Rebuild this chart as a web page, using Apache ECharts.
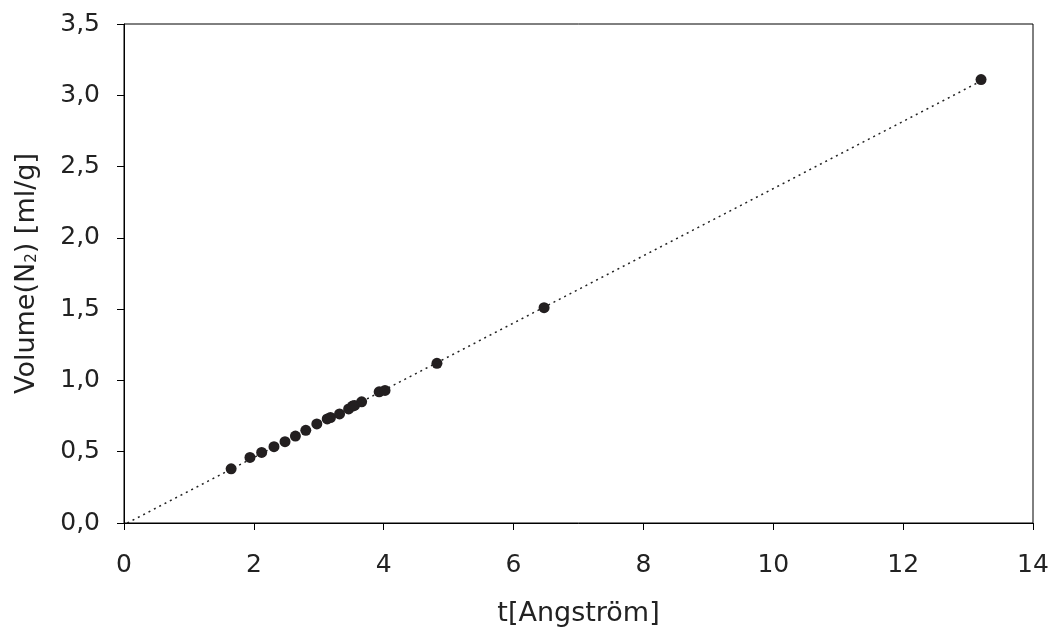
<!DOCTYPE html>
<html>
<head>
<meta charset="utf-8">
<script src="https://cdn.jsdelivr.net/npm/echarts@6/dist/echarts.min.js"></script>
<style>html,body{margin:0;padding:0;background:#fff}#c{width:1055px;height:633px}</style>
</head>
<body>
<div id="c"></div>
<script>
// Data
const tValues = [1.65, 1.94, 2.12, 2.31, 2.48, 2.64, 2.80, 2.97, 3.13, 3.18, 3.32, 3.46, 3.52, 3.55, 3.66, 3.93, 4.02, 4.82, 6.47, 13.2];
const volValues = [0.38, 0.46, 0.495, 0.535, 0.57, 0.61, 0.65, 0.695, 0.73, 0.74, 0.765, 0.80, 0.82, 0.825, 0.85, 0.92, 0.93, 1.12, 1.51, 3.11];
const fitT = [0.05, 13.2];
const fitVol = [0.0, 3.1];
const xTicks = [0, 2, 4, 6, 8, 10, 12, 14];
const yTicks = [0, 0.5, 1.0, 1.5, 2.0, 2.5, 3.0, 3.5];

const points = tValues.map((t, i) => [t, volValues[i]]);
const fit = fitT.map((t, i) => [t, fitVol[i]]);
const font = '"DejaVu Sans", Lato, sans-serif';

const chart = echarts.init(document.getElementById('c'), null, {renderer: 'canvas'});
chart.setOption({
  backgroundColor: '#fff',
  animation: false,
  grid: {left: 124, right: 22, top: 24, bottom: 110, show: true, borderColor: '#000', borderWidth: 1, backgroundColor: 'transparent'},
  xAxis: {
    type: 'value', min: xTicks[0], max: xTicks[xTicks.length - 1], interval: 2,
    name: 't[Angström]', nameLocation: 'middle', nameGap: 77,
    nameTextStyle: {fontFamily: font, fontSize: 27, color: '#222'},
    axisLine: {onZero: false, lineStyle: {color: '#000', width: 1}},
    axisTick: {show: true, inside: false, length: 7, lineStyle: {color: '#000'}},
    axisLabel: {fontFamily: font, fontSize: 25, color: '#222', margin: 30},
    splitLine: {show: false}
  },
  yAxis: {
    type: 'value', min: yTicks[0], max: yTicks[yTicks.length - 1], interval: 0.5,
    name: 'Volume(N{sub|2}) [ml/g]', nameLocation: 'middle', nameGap: 84, nameRotate: 90,
    nameTextStyle: {fontFamily: font, fontSize: 27, color: '#222',
      rich: {sub: {fontFamily: font, fontSize: 15, color: '#222', verticalAlign: 'bottom', padding: [12, 0, 0, 0]}}},
    axisLine: {onZero: false, lineStyle: {color: '#000', width: 1}},
    axisTick: {show: true, inside: false, length: 7, lineStyle: {color: '#000'}},
    axisLabel: {fontFamily: font, fontSize: 25, color: '#222', margin: 24,
      formatter: v => v.toFixed(1).replace('.', ',')},
    splitLine: {show: false}
  },
  series: [
    {
      type: 'line', data: fit, symbol: 'none', silent: true,
      lineStyle: {color: '#222', width: 1.5, type: [2, 4]}
    },
    {
      type: 'scatter', data: points, symbol: 'circle', symbolSize: 11,
      itemStyle: {color: '#231f20', opacity: 1}
    }
  ]
});
</script>
</body>
</html>
